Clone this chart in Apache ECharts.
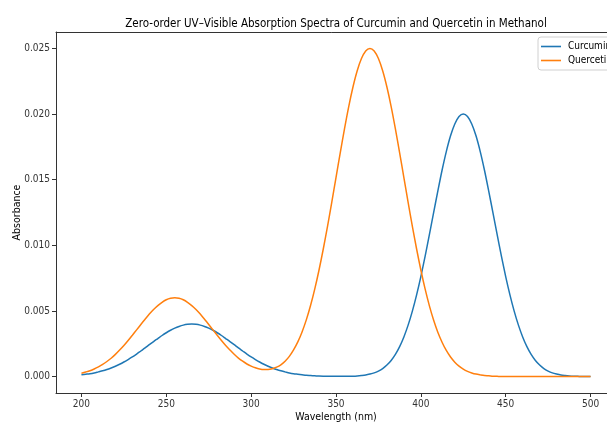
<!DOCTYPE html>
<html>
<head>
<meta charset="utf-8">
<script src="https://cdn.jsdelivr.net/npm/echarts@6/dist/echarts.min.js"></script>
<style>
  html, body { margin: 0; padding: 0; background: #fff; }
  #chart { width: 607px; height: 423px; }
</style>
</head>
<body>
<div id="chart"></div>
<script>
// wavelength grid (nm), read every 2.5 nm
const wavelengths = [
  200, 202.5, 205, 207.5, 210, 212.5, 215, 217.5, 220, 222.5,
  225, 227.5, 230, 232.5, 235, 237.5, 240, 242.5, 245, 247.5,
  250, 252.5, 255, 257.5, 260, 262.5, 265, 267.5, 270, 272.5,
  275, 277.5, 280, 282.5, 285, 287.5, 290, 292.5, 295, 297.5,
  300, 302.5, 305, 307.5, 310, 312.5, 315, 317.5, 320, 322.5,
  325, 327.5, 330, 332.5, 335, 337.5, 340, 342.5, 345, 347.5,
  350, 352.5, 355, 357.5, 360, 362.5, 365, 367.5, 370, 372.5,
  375, 377.5, 380, 382.5, 385, 387.5, 390, 392.5, 395, 397.5,
  400, 402.5, 405, 407.5, 410, 412.5, 415, 417.5, 420, 422.5,
  425, 427.5, 430, 432.5, 435, 437.5, 440, 442.5, 445, 447.5,
  450, 452.5, 455, 457.5, 460, 462.5, 465, 467.5, 470, 472.5,
  475, 477.5, 480, 482.5, 485, 487.5, 490, 492.5, 495, 497.5,
  500
]

// absorbance
const curcumin = [
  0.00014, 0.00018, 0.00022, 0.00028, 0.00036, 0.00044, 0.00054, 0.00066, 0.00079, 0.00094,
  0.00111, 0.00130, 0.00150, 0.00172, 0.00195, 0.00218, 0.00243, 0.00267, 0.00290, 0.00313,
  0.00334, 0.00353, 0.00369, 0.00382, 0.00392, 0.00398, 0.00400, 0.00398, 0.00392, 0.00382,
  0.00369, 0.00353, 0.00334, 0.00313, 0.00290, 0.00267, 0.00243, 0.00218, 0.00195, 0.00172,
  0.00150, 0.00130, 0.00111, 0.00094, 0.00079, 0.00066, 0.00054, 0.00044, 0.00036, 0.00028,
  0.00022, 0.00018, 0.00014, 0.00010, 0.00008, 0.00006, 0.00004, 0.00003, 0.00003, 0.00002,
  0.00002, 0.00002, 0.00002, 0.00002, 0.00003, 0.00005, 0.00008, 0.00012, 0.00019, 0.00028,
  0.00042, 0.00061, 0.00088, 0.00123, 0.00169, 0.00228, 0.00302, 0.00392, 0.00499, 0.00623,
  0.00762, 0.00916, 0.01079, 0.01247, 0.01413, 0.01572, 0.01714, 0.01834, 0.01924, 0.01981,
  0.02000, 0.01981, 0.01924, 0.01834, 0.01714, 0.01572, 0.01413, 0.01247, 0.01079, 0.00916,
  0.00762, 0.00623, 0.00499, 0.00392, 0.00302, 0.00228, 0.00169, 0.00123, 0.00088, 0.00061,
  0.00042, 0.00028, 0.00019, 0.00012, 0.00008, 0.00005, 0.00003, 0.00002, 0.00001, 0.00001,
  0.00000
]
const quercetin = [
  0.00026, 0.00035, 0.00045, 0.00058, 0.00074, 0.00093, 0.00115, 0.00140, 0.00169, 0.00202,
  0.00237, 0.00275, 0.00315, 0.00356, 0.00397, 0.00437, 0.00476, 0.00511, 0.00541, 0.00566,
  0.00585, 0.00596, 0.00600, 0.00596, 0.00585, 0.00566, 0.00541, 0.00511, 0.00476, 0.00437,
  0.00397, 0.00356, 0.00315, 0.00275, 0.00237, 0.00203, 0.00170, 0.00141, 0.00117, 0.00096,
  0.00080, 0.00067, 0.00058, 0.00054, 0.00054, 0.00060, 0.00072, 0.00090, 0.00117, 0.00154,
  0.00203, 0.00264, 0.00340, 0.00432, 0.00541, 0.00668, 0.00812, 0.00972, 0.01145, 0.01328,
  0.01516, 0.01705, 0.01887, 0.02057, 0.02206, 0.02330, 0.02423, 0.02481, 0.02500, 0.02481,
  0.02423, 0.02330, 0.02206, 0.02057, 0.01887, 0.01705, 0.01516, 0.01328, 0.01145, 0.00972,
  0.00812, 0.00668, 0.00541, 0.00431, 0.00338, 0.00262, 0.00199, 0.00149, 0.00110, 0.00080,
  0.00057, 0.00040, 0.00028, 0.00019, 0.00013, 0.00008, 0.00006, 0.00003, 0.00002, 0.00001,
  0.00001, 0.00000, 0.00000, 0.00000, 0.00000, 0.00000, 0.00000, 0.00000, 0.00000, 0.00000,
  0.00000, 0.00000, 0.00000, 0.00000, 0.00000, 0.00000, 0.00000, 0.00000, 0.00000, 0.00000,
  0.00000
]

const xTicks = [200, 250, 300, 350, 400, 450, 500]
const yTicks = [0, 0.005, 0.010, 0.015, 0.020, 0.025]

const font = "'DejaVu Sans Condensed', 'DejaVu Sans', sans-serif"

const pairs = (ys) => wavelengths.map((x, i) => [x, ys[i]])

const chart = echarts.init(document.getElementById('chart'))

const option = {
  animation: false,
  backgroundColor: '#fff',
  title: {
    text: 'Zero-order UV–Visible Absorption Spectra of Curcumin and Quercetin in Methanol',
    left: 331,
    top: 13,
    textAlign: 'center',
    textStyle: { fontFamily: font, fontSize: 11.5, fontWeight: 'normal', color: '#000' }
  },
  legend: {
    orient: 'vertical',
    left: 538,
    top: 37,
    padding: [3, 6, 3, 3],
    itemGap: 1,
    itemWidth: 20,
    itemHeight: 1.6,
    icon: 'rect',
    borderColor: '#d0d0d0',
    borderWidth: 1,
    borderRadius: 3,
    backgroundColor: 'rgba(255,255,255,0.8)',
    textStyle: { fontFamily: font, fontSize: 10, color: '#000', padding: [0, 0, 0, 2], lineHeight: 13 },
    data: ['Curcumin', 'Quercetin']
  },
  grid: {
    show: false,
    left: 56,
    top: 32,
    width: 560,
    height: 361,
    outerBoundsMode: 'none',
    containLabel: false
  },
  xAxis: [
    {
      type: 'value',
      min: 185,
      max: 515,
      name: 'Wavelength (nm)',
      nameLocation: 'middle',
      nameGap: 19,
      nameMoveOverlap: false,
      nameTextStyle: { fontFamily: font, fontSize: 10.5, color: '#000' },
      axisLine: { onZero: false, lineStyle: { color: '#333', width: 1 } },
      axisTick: { length: 4, lineStyle: { color: '#333' }, customValues: xTicks },
      axisLabel: { fontFamily: font, fontSize: 10, color: '#333', margin: 6, customValues: xTicks },
      splitLine: { show: false }
    },
    {
      // top spine only
      type: 'value',
      position: 'top',
      min: 185,
      max: 515,
      axisLine: { show: true, onZero: false, lineStyle: { color: '#333', width: 1 } },
      axisTick: { show: false },
      axisLabel: { show: false },
      splitLine: { show: false }
    }
  ],
  yAxis: {
    type: 'value',
    min: -0.00125,
    max: 0.02625,
    name: 'Absorbance',
    nameLocation: 'middle',
    nameGap: 33,
    nameMoveOverlap: false,
    nameTextStyle: { fontFamily: font, fontSize: 10.5, color: '#000' },
    axisLine: { show: true, onZero: false, lineStyle: { color: '#333', width: 1 } },
    axisTick: { show: true, length: 4, lineStyle: { color: '#333' }, customValues: yTicks },
    axisLabel: {
      fontFamily: font, fontSize: 10, color: '#333', margin: 6,
      customValues: yTicks,
      formatter: (v) => v.toFixed(3)
    },
    splitLine: { show: false }
  },
  series: [
    {
      name: 'Curcumin',
      type: 'line',
      data: pairs(curcumin),
      smooth: 0.3,
      symbol: 'none',
      lineStyle: { color: '#1f77b4', width: 1.5 },
      itemStyle: { color: '#1f77b4' }
    },
    {
      name: 'Quercetin',
      type: 'line',
      data: pairs(quercetin),
      smooth: 0.3,
      symbol: 'none',
      lineStyle: { color: '#ff7f0e', width: 1.5 },
      itemStyle: { color: '#ff7f0e' }
    }
  ]
}

chart.setOption(option)
</script>
</body>
</html>
